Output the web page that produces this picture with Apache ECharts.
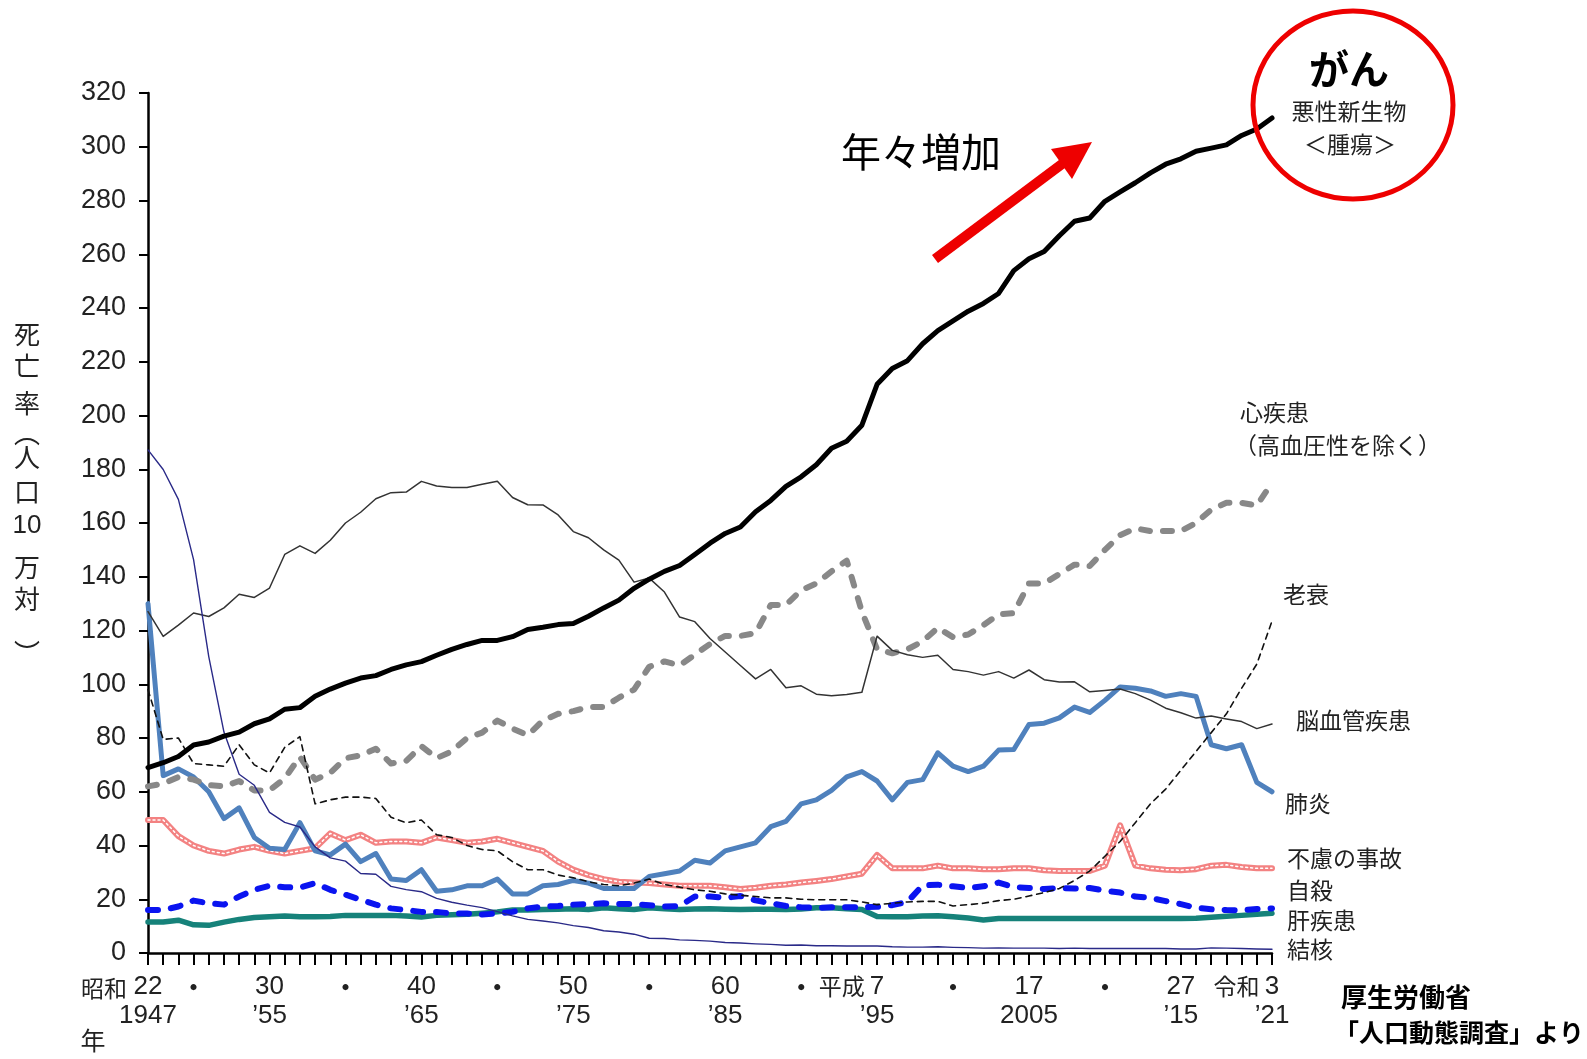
<!DOCTYPE html>
<html><head><meta charset="utf-8">
<script src="https://cdn.jsdelivr.net/npm/echarts@6/dist/echarts.min.js"></script>
<style>html,body{margin:0;padding:0;background:#fff}#c{width:1587px;height:1059px}</style>
</head><body><div id="c"></div><script>
const years = [1947,1948,1949,1950,1951,1952,1953,1954,1955,1956,1957,1958,1959,1960,1961,1962,1963,1964,1965,1966,
1967,1968,1969,1970,1971,1972,1973,1974,1975,1976,1977,1978,1979,1980,1981,1982,1983,1984,1985,1986,
1987,1988,1989,1990,1991,1992,1993,1994,1995,1996,1997,1998,1999,2000,2001,2002,2003,2004,2005,2006,
2007,2008,2009,2010,2011,2012,2013,2014,2015,2016,2017,2018,2019,2020,2021];

// tick labels
const eraLabels = {1995:'平成',2021:'令和'};
const firstEraLabel = '昭和';
const eraNumbers = {1947:'22',1955:'30',1965:'40',1975:'50',1985:'60',1995:'7',2005:'17',2015:'27',2021:'3'};
const westernLabels = {1947:'1947',1955:'’55',1965:'’65',1975:'’75',1985:'’85',1995:'’95',2005:'2005',2015:'’15',2021:'’21'};
const dotYears = [1950,1960,1970,1980,1990,2000,2010];
const yTicks = [0,20,40,60,80,100,120,140,160,180,200,220,240,260,280,300,320];

// series values (deaths per 100,000)
const cancer = [69.0,70.8,73.1,77.4,78.5,80.7,82.2,85.3,87.1,90.7,91.3,95.5,98.2,100.4,102.3,103.2,105.5,107.2,108.4,110.8,
113.0,114.8,116.3,116.3,117.7,120.4,121.2,122.2,122.6,125.3,128.4,131.3,135.7,139.1,142.0,144.2,148.3,152.5,156.1,158.5,
164.2,168.4,173.6,177.2,181.7,187.8,190.4,196.4,211.6,217.5,220.4,226.7,231.6,235.2,238.8,241.7,245.4,253.9,258.3,261.0,
266.9,272.3,273.5,279.7,283.2,286.6,290.3,293.5,295.5,298.3,299.5,300.7,304.2,306.6,310.7];
const heart = [62,63,65.5,64.5,62.5,62,64,60.5,60.5,65,73,64.5,67,72.5,73.5,76,70.5,71.5,77,72.5,
75,80,82,86.5,83.5,81,86.5,89,90,91.5,91.5,95,98,106.5,108.5,107,111,115,118,118,
119,129.5,129.5,135,137.5,142,146,127,113,111.5,113,116,121,117.5,118.5,122,126,126.5,137.5,137.5,
141,144.5,144,150,155.5,158,157,157,157,160,165,167.5,167.5,166.5,175];
const senility = [98,79.5,80,70.5,70,69.5,77.5,70,67,76.5,80.5,55.5,57,58,58,57.5,50.5,48.5,49.5,44,
43,40,38.5,38,34,31,31,29,28,26.5,25.5,25,26,27.5,25.5,24.5,23.5,23,22,21.5,
21,20.5,20.5,20,19.8,19.8,19.8,19,18,18.5,19,19.2,19.2,17.5,18,18.5,19.5,20,21.2,22.5,
24,27,30.5,36,41.5,48.5,55.5,61,68,75,82,89,98.5,107.5,123.5];
const cerebro = [127,117.8,122,126.5,125.2,128.4,133.5,132.3,135.8,148.3,151.5,148.7,153.6,160,164,169,171.3,171.5,175.5,173.8,
173.2,173.2,174.4,175.5,169.5,166.8,166.7,163,156.8,154.5,150,146.2,138,139.5,134.3,125,123.3,117,112,107,
102,105.5,98.7,99.4,96.3,95.7,96.2,97,117.9,112.6,111,110,110.8,105.5,104.7,103.4,104.7,102.3,105.3,101.7,
100.8,100.9,97.2,97.7,98.2,96.5,94.1,91.1,89.4,87.4,88.2,87.1,86.1,83.5,85.2];
const pneumonia = [130,66,68.5,65.5,60,50,54,43,39,38.5,48.5,38,36.5,40.5,34,37,27.5,27,31,23,
23.5,25,25,27.5,22,22,25,25.5,27,26,24,24,24,28.5,29.5,30.5,34.5,33.5,38,39.5,
41,47,49,55.5,57,60.5,65.5,67.5,64,57,63.5,64.5,74.5,69.5,67.5,69.5,75.5,75.7,85,85.5,
87.5,91.5,89.5,94,99,98.5,97.5,95.5,96.5,95.5,77.5,76,77.5,63.5,60];
const accident = [49.5,49.5,43.5,40,38,37,38.5,39.5,38,37,38,39,44.5,42,44,41,41.5,41.5,41,43,
42,41,41.5,42.5,41,39.5,38,34,31,29,27.5,26.5,26.2,26,25.5,25,25,25,24.5,23.8,
24.3,25,25.5,26.2,26.8,27.5,28.5,29.5,36.5,31.5,31.5,31.5,32.5,31.5,31.5,31.2,31.2,31.5,31.5,30.8,
30.5,30.5,30.5,32.5,47.5,32.5,31.5,31,30.8,31.2,32.5,32.8,32,31.5,31.5];
const suicide = [16,16,17.3,19.5,18.5,18,21,23.5,25,24.5,24.3,26,23.5,21.7,19.8,18,16.6,16,15.3,15.3,
14.7,14.7,14.3,14.7,15.3,16.6,17.3,17.5,18,18.2,18.5,18.2,18.2,17.8,17.3,17.5,21,21,20.5,21.2,
19.6,18.5,17.5,17,16.8,17,17,17,17.2,17.8,19,25.2,25.4,24.8,24.2,24.8,26.2,24.5,24.2,23.8,
24.2,24,24.2,23.2,22.5,21,20.5,19.3,18.2,16.8,16.3,16,15.9,16.4,16.6];
const liver = [11.5,11.5,12.2,10.5,10.3,11.5,12.5,13.2,13.5,13.8,13.5,13.5,13.6,14,14,14,14,13.8,13.4,14,
14.2,14.4,14.8,15.3,16,16,16.2,16.3,16.5,16.2,16.8,16.5,16.2,16.8,16.5,16.2,16.4,16.5,16.3,16.2,
16.3,16.3,16.2,16.4,16.8,16.8,16.5,16.2,13.6,13.5,13.5,13.8,13.9,13.5,13,12.3,12.8,12.8,12.8,12.8,
12.8,12.8,12.8,12.8,12.8,12.8,12.8,12.8,12.8,12.9,13.3,13.7,14,14.4,14.8];
const tuberculosis = [187.2,179.9,168.8,146.4,110.3,82.2,66.5,62.4,52.3,48.6,46.9,39.5,35.4,34.2,29.6,29.3,24.8,23.6,22.8,20.3,
18.9,17.8,16.9,15.4,13.8,12.5,11.9,11.2,10.2,9.5,8.3,7.8,7.0,5.5,5.4,4.9,4.7,4.4,3.9,3.7,
3.4,3.2,2.9,3.0,2.7,2.7,2.6,2.6,2.6,2.3,2.2,2.2,2.3,2.1,2.0,1.8,1.9,1.8,1.8,1.8,
1.7,1.8,1.7,1.7,1.7,1.7,1.7,1.7,1.5,1.5,1.9,1.8,1.7,1.5,1.4];

const JP = '"Noto Sans CJK JP", sans-serif';
const NARROW = '"Liberation Sans Narrow", "Liberation Sans", Arial, sans-serif';
const SANS = '"Liberation Sans", Arial, sans-serif';

function line(name, data, color, width, type, z) {
  return {
    type: 'line', name: name, data: data, symbol: 'none', z: z, silent: true,
    lineStyle: { color: color, width: width, type: type, cap: 'round', join: 'round' }
  };
}

const chart = echarts.init(document.getElementById('c'), null, { renderer: 'canvas' });

function jt(x, y, text, size, opts) {
  opts = opts || {};
  return { type: 'text', x: x, y: y, z: 100, style: {
    text: text, fontSize: size, fontFamily: opts.family || JP, fontWeight: opts.weight || 'normal',
    fill: opts.fill || '#222', align: opts.align || 'left', verticalAlign: 'middle' } };
}

const axisNameChars = [['死',334],['亡',366],['率',403],['︵',433],['人',457],['口',492],['10',526],['万',567],['対',599],['︶',653]];
const graphics = axisNameChars.map(c => jt(27, c[1], c[0], 26, { align: 'center', family: c[0] === '10' ? SANS : JP }));
graphics.push(
  jt(127, 988, firstEraLabel, 23, { align: 'right' }),
  jt(93, 1040, '年', 25, { align: 'center' }),
  jt(1240, 412, '心疾患', 23),
  jt(1234, 445, '（高血圧性を除く）', 23),
  jt(1283, 594, '老衰', 23),
  jt(1296, 720, '脳血管疾患', 23),
  jt(1285, 803, '肺炎', 23),
  jt(1287, 858, '不慮の事故', 23),
  jt(1287, 890, '自殺', 23),
  jt(1287, 920, '肝疾患', 23),
  jt(1287, 949, '結核', 23),
  jt(921, 152, '年々増加', 40, { align: 'center', fill: '#000' }),
  jt(1349, 69, 'がん', 40, { align: 'center', weight: 'bold', fill: '#000' }),
  jt(1349, 111, '悪性新生物', 23, { align: 'center' }),
  jt(1350, 144, '＜腫瘍＞', 23, { align: 'center' }),
  jt(1341, 997, '厚生労働省', 26, { weight: 'bold', fill: '#000' }),
  jt(1334, 1032, '「人口動態調査」より', 25, { weight: 'bold', fill: '#000' }),
  { type: 'ellipse', z: 100, shape: { cx: 1353, cy: 105, rx: 100, ry: 94 },
    style: { fill: null, stroke: '#ee0000', lineWidth: 5 } },
  { type: 'line', z: 100, shape: { x1: 935, y1: 259, x2: 1066, y2: 161 },
    style: { stroke: '#ee0000', lineWidth: 10 } },
  { type: 'polygon', z: 100, shape: { points: [[1092, 142], [1051, 149], [1072, 179]] },
    style: { fill: '#ee0000' } }
);

const labelled = new Set(Object.keys(eraNumbers).map(Number).concat(dotYears));

const option = {
  animation: false,
  backgroundColor: '#fff',
  grid: { left: 148, right: 315, top: 93, bottom: 106, containLabel: false },
  xAxis: {
    type: 'category', data: years.map(String), boundaryGap: false,
    axisLine: { lineStyle: { color: '#000', width: 2.5 } },
    axisTick: { show: true, interval: 0, length: 12, lineStyle: { color: '#000', width: 2 } },
    axisLabel: {
      interval: (i, v) => labelled.has(+v), margin: 19, color: '#222',
      showMinLabel: true, showMaxLabel: true, hideOverlap: false,
      formatter: function (v) {
        const y = +v;
        if (dotYears.indexOf(y) >= 0) return '{d|・}';
        if (!eraNumbers[y]) return '';
        const era = eraLabels[y];
        const first = era ? '{e|' + era + ' }{n|' + eraNumbers[y] + '}{h|' + era + ' }' : '{n|' + eraNumbers[y] + '}';
        return first + '\n{n|' + westernLabels[y] + '}';
      },
      rich: {
        n: { fontSize: 26, fontFamily: NARROW, color: '#222', lineHeight: 29 },
        e: { fontSize: 23, fontFamily: JP, color: '#222', lineHeight: 29 },
        h: { fontSize: 23, fontFamily: JP, color: 'rgba(0,0,0,0)', lineHeight: 29 },
        d: { fontSize: 24, fontFamily: JP, fontWeight: 'bold', color: '#222', lineHeight: 29 }
      }
    },
    splitLine: { show: false }
  },
  yAxis: {
    type: 'value', min: yTicks[0], max: yTicks[yTicks.length - 1], interval: yTicks[1] - yTicks[0],
    axisLine: { show: true, lineStyle: { color: '#000', width: 2.5 } },
    axisTick: { show: true, length: 9, lineStyle: { color: '#000', width: 2 } },
    axisLabel: { fontSize: 27, fontFamily: SANS, color: '#222', margin: 22 },
    splitLine: { show: false }
  },
  series: [
    line('肝疾患', liver, '#16827a', 5.5, 'solid', 2),
    line('自殺', suicide, '#0a14f0', 6, [10, 13], 3),
    line('不慮の事故', accident, '#f38282', 6, 'solid', 4),
    line('不慮の事故（白点）', accident, '#ffffff', 1.5, [2, 3], 5),
    line('肺炎', pneumonia, '#4f81bd', 5, 'solid', 6),
    line('心疾患', heart, '#888888', 6, [9, 13], 7),
    line('老衰', senility, '#111111', 1.6, [6, 5], 8),
    line('脳血管疾患', cerebro, '#333333', 1.5, 'solid', 9),
    line('結核', tuberculosis, '#2a2a88', 1.4, 'solid', 9),
    line('悪性新生物', cancer, '#000000', 5, 'solid', 10)
  ],
  graphic: graphics
};
chart.setOption(option);
</script></body></html>
